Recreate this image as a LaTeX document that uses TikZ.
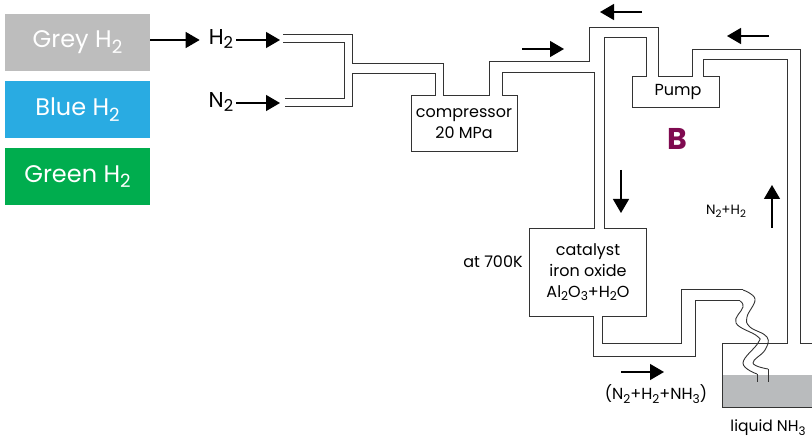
\documentclass[tikz,border=0pt]{standalone}
\usepackage{fontspec}
\setmainfont{Poppins}
\usetikzlibrary{arrows.meta}
\definecolor{greyh}{HTML}{BDBDBD}
\definecolor{blueh}{HTML}{29ABE2}
\definecolor{greenh}{HTML}{00AD4E}
\definecolor{liquidgrey}{HTML}{B9BBBD}
\definecolor{plantB}{HTML}{7F0A50}
\newcommand{\lowsub}[1]{\raisebox{-0.4ex}{\scalebox{0.76}{#1}}}
\tikzset{
  colourbox/.style={minimum width=145pt,minimum height=57pt,inner sep=0pt,text=white,font=\fontsize{24}{27}\selectfont},
  flow/.style={-{Triangle[length=14pt,width=16pt]},line width=1.3pt},
  pipe/.style={line width=1pt,black!80},
  label/.style={inner sep=0pt,align=center,font=\fontsize{16}{21}\selectfont},
  gas/.style={inner sep=3pt,font=\fontsize{21.5}{24}\selectfont}
}
\begin{document}
\begin{tikzpicture}[x=1pt,y=-1pt]
        \useasboundingbox(0,0)rectangle(812,438);

        % hydrogen colours
        \node[colourbox,fill=greyh](grey)at(77.5,42.5){Grey H\lowsub{2}};
        \node[colourbox,fill=blueh](blue)at(77.5,109.5){Blue H\lowsub{2}};
        \node[colourbox,fill=greenh](green)at(77.5,176.5){Green H\lowsub{2}};

        % feed gases
        \node[gas](hh)at(221,39){H\lowsub{2}};
        \node[gas](nn)at(221,102){N\lowsub{2}};
        \coordinate(hhin)at(280,40);
        \coordinate(nnin)at(280,103);
        \draw[flow,shorten >=6pt](grey.east|-hhin)--(hh.west|-hhin);
        \draw[flow](hh.east|-hhin)--(hhin);
        \draw[flow](nn.east|-nnin)--(nnin);

        % tank
        \fill[liquidgrey](722,375)rectangle(812,408);
        \draw[pipe](812,408)--(722,408)--(722,344)--(787,344)--(787,60)--(703,60)--(703,77)--(719,77)--(719,108)--(632,108)--(632,77)--(646,77)--(646,38)--(604,38)--(604,229)--(646,229)--(646,317)--(602,317)--(602,344)--(681,344)--(681,290)--(743,290);
        \draw[pipe](812,344)--(800,344)--(800,50)--(692,50)--(692,77)--(658,77)--(658,28)--(589,28)--(589,62)--(489,62)--(489,96)--(443,96)--(443,64)--(352,64)--(352,35)--(283,35);
        \draw[pipe](283,43)--(344,43)--(344,99)--(285,99);
        \draw[pipe](285,107)--(352,107)--(352,74)--(435,74)--(435,96)--(411,96)--(411,152)--(517,152)--(517,96)--(502,96)--(502,73)--(594,73)--(594,229)--(529,229)--(529,317)--(593,317)--(593,357)--(695,357)--(695,301)--(740,301);

        % wavy pipe into the liquid
        \draw[pipe,line width=.9pt]plot[smooth,tension=.7]coordinates{(743,290)(755,299)(747,317)(750,327)(767,337)(765,350)(753,363)(768,369)};
        \draw[pipe,line width=.9pt](768,369)--(768,382);
        \draw[pipe,line width=.9pt]plot[smooth,tension=.7]coordinates{(740,301)(743,307)(736,323)(757,336)(758,343)(743,363)(757,374)};
        \draw[pipe,line width=.9pt](757,374)--(757,382);

        % flow direction
        \draw[flow](522,49)--(564,49);
        \draw[flow](642,12)--(600,12);
        \draw[flow](769,36)--(727,36);
        \draw[flow](621,170)--(621,213);
        \draw[flow](772,228)--(772,185);
        \draw[flow](621,372)--(664,372);

        % labels
        \node[label](compressor)at(464,124){compressor\\20 MPa};
        \node[label](pump)at(678,92){Pump};
        \node[label](catalyst)at(588,272){catalyst\\iron oxide\\Al\lowsub{2}O\lowsub{3}+H\lowsub{2}O};
        \node[label](temp)at(493,262){at 700K};
        \node[label,font=\fontsize{13.5}{16}\selectfont](recycle)at(726,211){N\lowsub{2}+H\lowsub{2}};
        \node[label](mixture)at(656,394){(N\lowsub{2}+H\lowsub{2}+NH\lowsub{3})};
        \node[label,font=\fontsize{15.5}{21}\selectfont](liquid)at(768,428){liquid NH\lowsub{3}};
        \node[inner sep=0pt,text=plantB,font=\fontsize{30}{34}\selectfont\bfseries](plant)at(677,139){B};
    \end{tikzpicture}
\end{document}
